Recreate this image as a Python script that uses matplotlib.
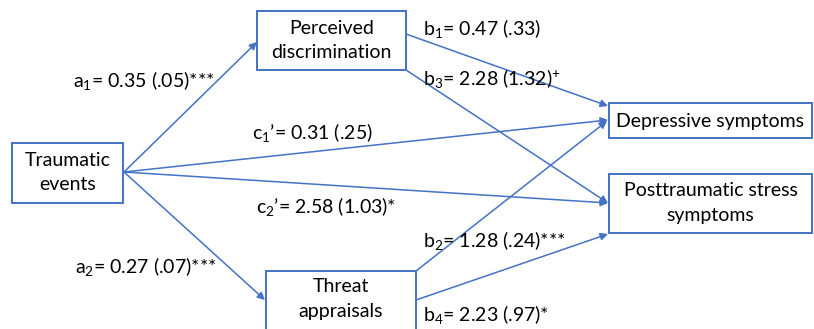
import matplotlib.pyplot as plt
from matplotlib.patches import Rectangle

plt.rcParams['font.family'] = ['Lato', 'DejaVu Sans']
plt.rcParams['mathtext.fontset'] = 'custom'
plt.rcParams['mathtext.rm'] = 'Lato'
plt.rcParams['mathtext.it'] = 'Lato:italic'
plt.rcParams['mathtext.default'] = 'rm'

# model variables
node_keys = ["TE", "PD", "TA", "DS", "PTS"]
node_labels = ["Traumatic\nevents", "Perceived\ndiscrimination", "Threat\nappraisals",
               "Depressive symptoms", "Posttraumatic stress\nsymptoms"]

# path estimates: name, index, prime, coefficient, SE, significance
path_names = ["a", "a", "c", "c", "b", "b", "b", "b"]
path_index = [1, 2, 1, 2, 1, 3, 2, 4]
path_prime = [False, False, True, True, False, False, False, False]
path_coef = [0.35, 0.27, 0.31, 2.58, 0.47, 2.28, 1.28, 2.23]
path_se = [0.05, 0.07, 0.25, 1.03, 0.33, 1.32, 0.24, 0.97]
path_sig = ["***", "***", "", "*", "", "+", "***", "*"]

# layout in pixel units (figure is 814 x 329)
box_xy = {
    "TE": (12, 143, 123, 203),
    "PD": (257, 11, 406, 70),
    "TA": (266, 271, 416, 345),
    "DS": (609, 103, 812, 138),
    "PTS": (609, 174, 812, 233),
}
text_y = {"TE": 173, "PD": 41, "TA": 299, "DS": 121, "PTS": 203}
arrow_xy = [
    ((124, 172), (257, 42)),
    ((124, 172), (265, 300)),
    ((124, 172), (608, 120)),
    ((124, 172), (608, 203)),
    ((406, 34), (608, 106)),
    ((406, 70), (608, 203)),
    ((416, 271), (607, 121)),
    ((416, 300), (608, 234)),
]
label_xy = [(73, 80), (75, 267), (252, 133), (256, 207),
            (423, 29), (423, 78), (423, 240), (423, 315)]

blue = "#4472C4"

fig = plt.figure(figsize=(8.14, 3.29), dpi=100)
ax = fig.add_axes([0, 0, 1, 1])
ax.set_xlim(0, 814)
ax.set_ylim(329, 0)
ax.axis("off")

for key, label in zip(node_keys, node_labels):
    x0, y0, x1, y1 = box_xy[key]
    ax.add_patch(Rectangle((x0, y0), x1 - x0, y1 - y0, facecolor="white",
                           edgecolor=blue, lw=1.4, zorder=3))
    ax.text((x0 + x1) / 2, text_y[key], label, ha="center", va="center",
            fontsize=14, linespacing=1.5, color="black", zorder=4)

for (p0, p1) in arrow_xy:
    ax.annotate("", xy=p1, xytext=p0,
                arrowprops=dict(arrowstyle="-|>", color=blue, lw=1.1,
                                mutation_scale=11, shrinkA=0, shrinkB=0),
                zorder=2)

for i in range(len(path_coef)):
    se = f"{path_se[i]:.2f}"
    if se.startswith("0"):
        se = se[1:]
    prime = "’" if path_prime[i] else ""
    sig = path_sig[i]
    if sig == "+":
        sig = r"$^{+}$"
    text = f"{path_names[i]}$_{{{path_index[i]}}}${prime}= {path_coef[i]:.2f} ({se}){sig}"
    x, y = label_xy[i]
    ax.text(x, y, text, ha="left", va="center", fontsize=14, color="black", zorder=5)

fig.savefig("out.png", dpi=100)
